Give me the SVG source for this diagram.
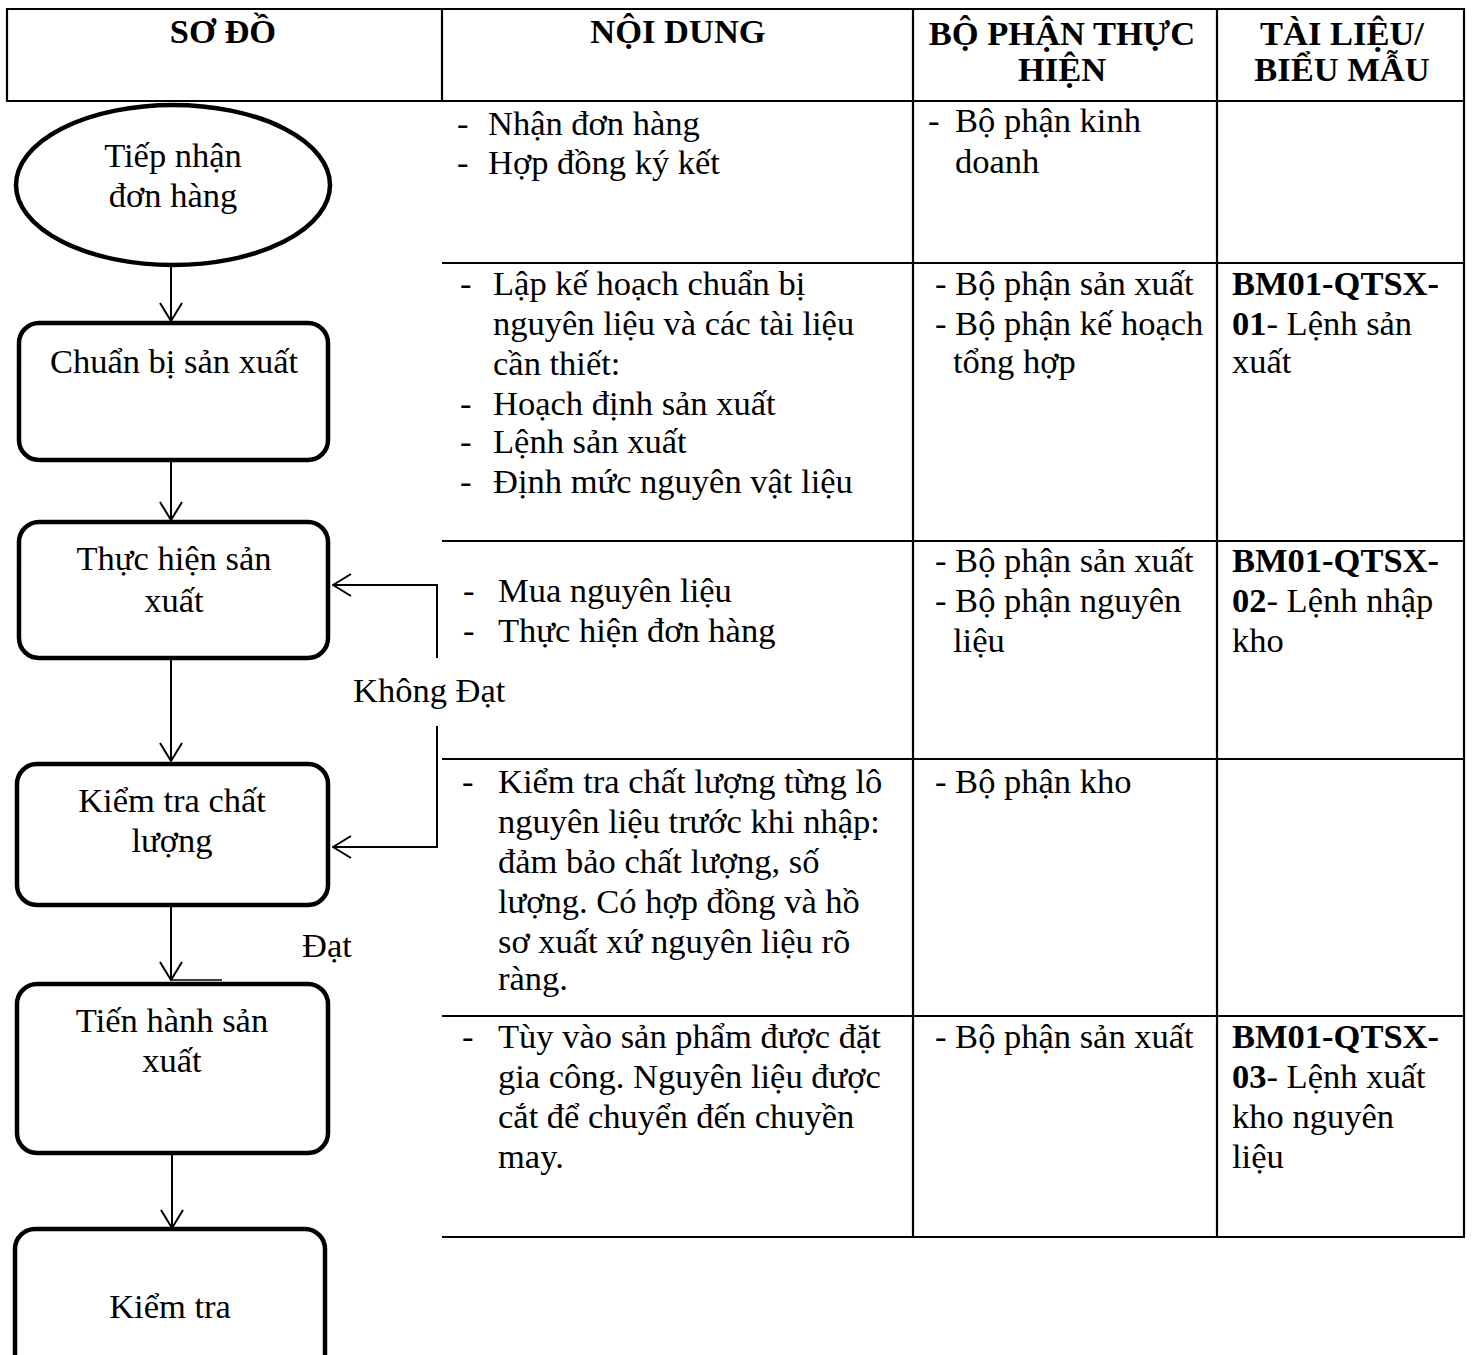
<svg xmlns="http://www.w3.org/2000/svg" width="1472" height="1355" viewBox="0 0 1472 1355">
<defs>
<style>
text{font-family:"Liberation Serif","Times New Roman",serif;font-size:34.5px;fill:#000}
.h{font-weight:bold;text-anchor:middle}
.c{text-anchor:middle}
.b{font-weight:bold}
.grid line{stroke:#000;stroke-width:2.2}
.node rect,.node ellipse{fill:#fff;stroke:#000;stroke-width:4.5}
.conn path,.conn line{fill:none;stroke:#000;stroke-width:2}
</style>
<marker id="arr" viewBox="0 0 20 24" refX="19" refY="12" markerWidth="20" markerHeight="24" markerUnits="userSpaceOnUse" orient="auto">
<path d="M1,1 L19,12 L1,23" fill="none" stroke="#000" stroke-width="2"/>
</marker>
</defs>
<rect width="1472" height="1355" fill="#fff"/>

<g id="table" class="grid">
<line x1="6" y1="9" x2="1465" y2="9"/>
<line x1="6" y1="101" x2="1465" y2="101"/>
<line x1="7" y1="9" x2="7" y2="101"/>
<line x1="442" y1="9" x2="442" y2="101"/>
<line x1="913" y1="9" x2="913" y2="1237"/>
<line x1="1217" y1="9" x2="1217" y2="1237"/>
<line x1="1464" y1="9" x2="1464" y2="1237"/>
<line x1="442" y1="263" x2="1465" y2="263"/>
<line x1="442" y1="541" x2="1465" y2="541"/>
<line x1="442" y1="759" x2="1465" y2="759"/>
<line x1="442" y1="1016" x2="1465" y2="1016"/>
<line x1="442" y1="1237" x2="1465" y2="1237"/>
</g>

<g id="header">
<text class="h" x="223" y="43">SƠ ĐỒ</text>
<text class="h" x="678" y="43">NỘI DUNG</text>
<text class="h" x="1062" y="45">BỘ PHẬN THỰC</text>
<text class="h" x="1062" y="81">HIỆN</text>
<text class="h" x="1342" y="45">TÀI LIỆU/</text>
<text class="h" x="1342" y="81">BIỂU MẪU</text>
</g>

<g id="row1">
<text x="457" y="135">-</text><text x="488" y="135">Nhận đơn hàng</text>
<text x="457" y="174">-</text><text x="488" y="174">Hợp đồng ký kết</text>
<text x="928" y="132">-</text><text x="955" y="132">Bộ phận kinh</text>
<text x="955" y="173">doanh</text>
</g>

<g id="row2">
<text x="460" y="295">-</text><text x="493" y="295">Lập kế hoạch chuẩn bị</text>
<text x="493" y="335">nguyên liệu và các tài liệu</text>
<text x="493" y="375">cần thiết:</text>
<text x="460" y="415">-</text><text x="493" y="415">Hoạch định sản xuất</text>
<text x="460" y="453">-</text><text x="493" y="453">Lệnh sản xuất</text>
<text x="460" y="493">-</text><text x="493" y="493">Định mức nguyên vật liệu</text>
<text x="935" y="295">- Bộ phận sản xuất</text>
<text x="935" y="335">- Bộ phận kế hoạch</text>
<text x="953" y="373">tổng hợp</text>
<text class="b" x="1232" y="295">BM01-QTSX-</text>
<text x="1232" y="335"><tspan class="b">01</tspan>- Lệnh sản</text>
<text x="1232" y="373">xuất</text>
</g>

<g id="row3">
<text x="463" y="602">-</text><text x="498" y="602">Mua nguyên liệu</text>
<text x="463" y="642">-</text><text x="498" y="642">Thực hiện đơn hàng</text>
<text x="935" y="572">- Bộ phận sản xuất</text>
<text x="935" y="612">- Bộ phận nguyên</text>
<text x="953" y="652">liệu</text>
<text class="b" x="1232" y="572">BM01-QTSX-</text>
<text x="1232" y="612"><tspan class="b">02</tspan>- Lệnh nhập</text>
<text x="1232" y="652">kho</text>
</g>

<g id="row4">
<text x="462" y="793">-</text><text x="498" y="793">Kiểm tra chất lượng từng lô</text>
<text x="498" y="833">nguyên liệu trước khi nhập:</text>
<text x="498" y="873">đảm bảo chất lượng, số</text>
<text x="498" y="913">lượng. Có hợp đồng và hồ</text>
<text x="498" y="953">sơ xuất xứ nguyên liệu rõ</text>
<text x="498" y="990">ràng.</text>
<text x="935" y="793">- Bộ phận kho</text>
</g>

<g id="row5">
<text x="462" y="1048">-</text><text x="498" y="1048">Tùy vào sản phẩm được đặt</text>
<text x="498" y="1088">gia công. Nguyên liệu được</text>
<text x="498" y="1128">cắt để chuyển đến chuyền</text>
<text x="498" y="1168">may.</text>
<text x="935" y="1048">- Bộ phận sản xuất</text>
<text class="b" x="1232" y="1048">BM01-QTSX-</text>
<text x="1232" y="1088"><tspan class="b">03</tspan>- Lệnh xuất</text>
<text x="1232" y="1128">kho nguyên</text>
<text x="1232" y="1168">liệu</text>
</g>

<g id="connectors" class="conn">
<line x1="171" y1="267" x2="171" y2="321" marker-end="url(#arr)"/>
<line x1="171" y1="462" x2="171" y2="520" marker-end="url(#arr)"/>
<line x1="171" y1="660" x2="171" y2="761" marker-end="url(#arr)"/>
<line x1="171" y1="907" x2="171" y2="980" marker-end="url(#arr)"/>
<line x1="172" y1="1155" x2="172" y2="1228" marker-end="url(#arr)"/>
<path d="M437,658 V585 H333" marker-end="url(#arr)"/>
<path d="M437,726 V847 H333" marker-end="url(#arr)"/>
<line x1="171" y1="980" x2="222" y2="980" style="stroke-width:1.5"/>
<text x="353" y="702">Không Đạt</text>
<text x="302" y="957">Đạt</text>
</g>

<g id="n1" class="node">
<ellipse cx="173" cy="185" rx="157" ry="80"/>
<text class="c" x="173" y="167">Tiếp nhận</text>
<text class="c" x="173" y="207">đơn hàng</text>
</g>
<g id="n2" class="node">
<rect x="19" y="323" width="309" height="137" rx="20"/>
<text class="c" x="174" y="373">Chuẩn bị sản xuất</text>
</g>
<g id="n3" class="node">
<rect x="19" y="522" width="309" height="136" rx="20"/>
<text class="c" x="174" y="570">Thực hiện sản</text>
<text class="c" x="174" y="612">xuất</text>
</g>
<g id="n4" class="node">
<rect x="17" y="764" width="311" height="141" rx="20"/>
<text class="c" x="172" y="812">Kiểm tra chất</text>
<text class="c" x="172" y="852">lượng</text>
</g>
<g id="n5" class="node">
<rect x="17" y="984" width="311" height="169" rx="20"/>
<text class="c" x="172" y="1032">Tiến hành sản</text>
<text class="c" x="172" y="1072">xuất</text>
</g>
<g id="n6" class="node">
<rect x="15" y="1229" width="310" height="200" rx="20"/>
<text class="c" x="170" y="1318">Kiểm tra</text>
</g>
</svg>
